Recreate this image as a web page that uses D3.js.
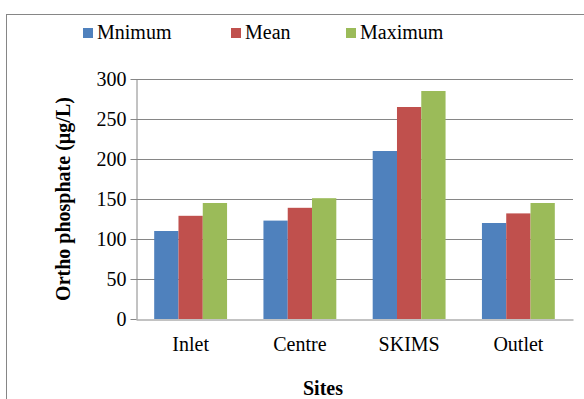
<!DOCTYPE html>
<html>
<head>
<meta charset="utf-8">
<script src="https://cdn.jsdelivr.net/npm/d3@7"></script>
<style>
  body { margin: 0; background: #fff; }
  svg text { font-family: "Liberation Serif", "Times New Roman", serif; fill: #000; }
</style>
</head>
<body>
<script>
// data
var sites = ["Inlet", "Centre", "SKIMS", "Outlet"];
var seriesNames = ["Mnimum", "Mean", "Maximum"];
var minimum = [110, 123, 210, 120];
var mean = [129, 139, 265, 132];
var maximum = [145, 151, 285, 145];
var yTicks = [0, 50, 100, 150, 200, 250, 300];
var colors = ["#4F81BD", "#C0504D", "#9BBB59"];

var allSeries = [minimum, mean, maximum];
var serif = "'Liberation Serif', 'Times New Roman', serif";

var width = 584, height = 399;
var svg = d3.select("body").append("svg").attr("width", width).attr("height", height);

// outer chart frame (runs off the right and bottom edges)
svg.append("rect").attr("x", 6.5).attr("y", 14.5).attr("width", 600).attr("height", 420)
    .attr("fill", "none").attr("stroke", "#868686").attr("stroke-width", 1);

var plotLeft = 136, plotRight = 573, plotTop = 79, plotBottom = 319;

var x = d3.scaleBand().domain(sites).range([plotLeft, plotRight]).paddingInner(0.333).paddingOuter(0.1665);
var xs = d3.scaleBand().domain(seriesNames).range([0, x.bandwidth()]);
var y = d3.scaleLinear().domain([0, 300]).range([plotBottom, plotTop]);

// gridlines
svg.append("g").selectAll("line").data(yTicks.slice(1)).join("line")
    .attr("x1", plotLeft).attr("x2", plotRight)
    .attr("y1", function(d){ return Math.round(y(d)) + 0.5; })
    .attr("y2", function(d){ return Math.round(y(d)) + 0.5; })
    .attr("stroke", "#868686").attr("stroke-width", 1);

// bars
var groups = svg.append("g").selectAll("g").data(sites).join("g")
    .attr("transform", function(d){ return "translate(" + x(d) + ",0)"; });
groups.selectAll("rect").data(function(d, i){
        return seriesNames.map(function(s, j){ return {s: s, v: allSeries[j][i], j: j}; });
    }).join("rect")
    .attr("x", function(d){ return xs(d.s); })
    .attr("width", xs.bandwidth())
    .attr("y", function(d){ return y(d.v); })
    .attr("height", function(d){ return y(0) - y(d.v); })
    .attr("fill", function(d){ return colors[d.j]; });

// y axis
var yAxis = svg.append("g").attr("transform", "translate(" + (plotLeft + 0.5) + ",0)")
    .call(d3.axisLeft(y).tickValues(yTicks).tickSize(6).tickPadding(4).tickSizeOuter(0));
yAxis.select(".domain").attr("stroke", "#868686");
yAxis.selectAll(".tick line").attr("stroke", "#868686");
yAxis.selectAll(".tick text").style("font-size", "20px").style("font-family", serif).attr("fill", "#000");

// x axis
var xAxis = svg.append("g").attr("transform", "translate(0," + (plotBottom + 0.5) + ")")
    .call(d3.axisBottom(x).tickSize(0).tickPadding(17).tickSizeOuter(0));
xAxis.select(".domain").attr("stroke", "#868686");
xAxis.selectAll(".tick text").style("font-size", "20px").style("font-family", serif).attr("fill", "#000");

// axis titles
svg.append("text").attr("x", 323).attr("y", 395).attr("text-anchor", "middle")
    .style("font-size", "20px").style("font-family", serif).style("font-weight", "bold").text("Sites");
svg.append("text").attr("transform", "translate(70,199) rotate(-90)").attr("text-anchor", "middle")
    .style("font-size", "20px").style("font-family", serif).style("font-weight", "bold").text("Ortho phosphate (µg/L)");

// legend
var legendX = [83, 231, 346];
var legend = svg.append("g").selectAll("g").data(seriesNames).join("g")
    .attr("transform", function(d, i){ return "translate(" + legendX[i] + ",28)"; });
legend.append("rect").attr("width", 10).attr("height", 10)
    .attr("fill", function(d, i){ return colors[i]; });
legend.append("text").attr("x", 14).attr("y", 11).style("font-size", "20px").style("font-family", serif)
    .text(function(d){ return d; });
</script>
</body>
</html>
